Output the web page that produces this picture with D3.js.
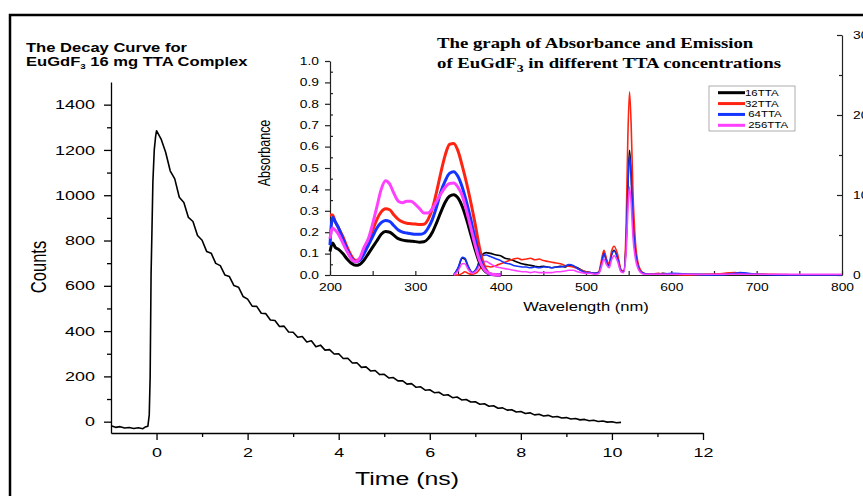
<!DOCTYPE html>
<html>
<head>
<meta charset="utf-8">
<script src="https://cdn.jsdelivr.net/npm/d3@7"></script>
<style>
  body { margin: 0; background: #fff; }
  text { font-family: "Liberation Sans", Arial, sans-serif; }
</style>
</head>
<body>
<svg id="chart" width="863" height="496"></svg>
<script>
// decay curve (main plot)
const decayTime = [-1.0, -0.9, -0.8, -0.7, -0.6, -0.5, -0.4, -0.3, -0.25, -0.19, -0.16, -0.14, -0.12, -0.1, -0.08, -0.05, -0.02,
  0.0, 0.1, 0.2, 0.3, 0.4, 0.5, 0.6, 0.7, 0.8, 0.9, 1.0, 1.1, 1.2, 1.3, 1.4, 1.5, 1.6, 1.7, 1.8, 1.9,
  2.0, 2.1, 2.2, 2.3, 2.4, 2.5, 2.6, 2.7, 2.8, 2.9, 3.0, 3.1, 3.2, 3.3, 3.4, 3.5, 3.6, 3.7, 3.8, 3.9,
  4.0, 4.1, 4.2, 4.3, 4.4, 4.5, 4.6, 4.7, 4.8, 4.9, 5.0, 5.1, 5.2, 5.3, 5.4, 5.5, 5.6, 5.7, 5.8, 5.9,
  6.0, 6.1, 6.2, 6.3, 6.4, 6.5, 6.6, 6.7, 6.8, 6.9, 7.0, 7.1, 7.2, 7.3, 7.4, 7.5, 7.6, 7.7, 7.8, 7.9,
  8.0, 8.1, 8.2, 8.3, 8.4, 8.5, 8.6, 8.7, 8.8, 8.9, 9.0, 9.1, 9.2, 9.3, 9.4, 9.5, 9.6, 9.7, 9.8, 9.9,
  10.0, 10.1, 10.2];
const decayCounts = [-18, -25, -22, -28, -26, -30, -27, -31, -24, -20, 30, 200, 650, 850, 1060, 1200, 1260,
  1285, 1248, 1190, 1108, 1072, 991, 968, 902, 884, 822, 801, 752, 744, 699, 689, 648, 641, 601, 594, 553,
  541, 510, 509, 479, 477, 449, 447, 420, 422, 396, 395, 373, 376, 352, 357, 331, 338, 316, 318, 299,
  300, 279, 280, 259, 260, 240, 242, 224, 226, 208, 209, 193, 195, 180, 181, 166, 168, 152, 154, 139,
  141, 128, 130, 117, 119, 106, 109, 96, 98, 87, 88, 77, 79, 68, 70, 59, 61, 51, 53, 43,
  45, 36, 39, 30, 33, 25, 28, 21, 23, 16, 18, 12, 14, 8, 10, 4, 6, 1, 3, -2,
  0, -5, -3];
const timeTicks = [0, 2, 4, 6, 8, 10, 12];
const timeMinor = [1, 3, 5, 7, 9, 11];
const countTicks = [0, 200, 400, 600, 800, 1000, 1200, 1400];
const countMinor = [100, 300, 500, 700, 900, 1100, 1300];

// inset: absorbance (left axis) and emission (right axis)
const seriesNames = ["16TTA", "32TTA", " 64TTA", " 256TTA"];
const seriesColors = ["#000000", "#ff2412", "#1434ff", "#ff40ff"];
const absWl = [200, 203, 206, 210, 215, 220, 225, 230, 235, 240, 245, 250, 255, 260, 265, 270, 275, 280, 285, 290,
  295, 300, 305, 310, 315, 320, 325, 330, 335, 340, 345, 350, 355, 360, 365, 370, 375, 380, 385, 390, 400];
const abs16 = [0.11, 0.15, 0.13, 0.12, 0.10, 0.075, 0.055, 0.045, 0.05, 0.07, 0.10, 0.13, 0.16, 0.19, 0.203, 0.20, 0.185, 0.17, 0.163, 0.16,
  0.158, 0.156, 0.153, 0.155, 0.17, 0.20, 0.245, 0.295, 0.34, 0.368, 0.375, 0.36, 0.32, 0.26, 0.19, 0.12, 0.06, 0.025, 0.008, 0.002, 0];
const abs32 = [0.28, 0.28, 0.25, 0.22, 0.18, 0.13, 0.09, 0.068, 0.075, 0.11, 0.16, 0.21, 0.26, 0.295, 0.31, 0.305, 0.28, 0.26, 0.248, 0.242,
  0.24, 0.238, 0.236, 0.237, 0.26, 0.31, 0.39, 0.48, 0.56, 0.61, 0.615, 0.58, 0.51, 0.43, 0.34, 0.24, 0.13, 0.05, 0.012, 0.002, 0];
const abs64 = [0.14, 0.27, 0.25, 0.22, 0.17, 0.12, 0.08, 0.062, 0.07, 0.10, 0.14, 0.18, 0.22, 0.245, 0.255, 0.25, 0.23, 0.21, 0.20, 0.196,
  0.193, 0.19, 0.19, 0.195, 0.22, 0.26, 0.32, 0.39, 0.44, 0.475, 0.483, 0.46, 0.41, 0.34, 0.26, 0.17, 0.09, 0.035, 0.01, 0.002, 0];
const abs256 = [0.17, 0.22, 0.21, 0.19, 0.15, 0.11, 0.075, 0.062, 0.08, 0.13, 0.17, 0.24, 0.32, 0.40, 0.44, 0.425, 0.38, 0.345, 0.338, 0.345,
  0.345, 0.33, 0.31, 0.29, 0.29, 0.31, 0.345, 0.38, 0.41, 0.428, 0.43, 0.41, 0.37, 0.30, 0.22, 0.14, 0.07, 0.03, 0.01, 0.003, 0];

const emWl = [345, 350, 355, 358, 362, 367, 372, 378, 383, 388, 395, 400, 405, 410, 415, 420, 425, 430, 435, 440,
  445, 450, 455, 460, 465, 470, 475, 480, 485, 490, 495, 500, 505, 510, 515, 518, 521, 524, 527, 530,
  533, 537, 541, 544, 547, 549, 551, 553, 555, 558, 561, 564, 568, 575, 585, 590, 600, 620, 650, 675,
  680, 700, 720, 750, 800];
const em16 = [0, 8, 21, 20, 10, 3, 8, 25, 28, 27, 25, 24, 21, 20, 18, 16, 14, 13, 12, 11,
  10, 11, 10, 9, 10, 11, 10, 12, 11, 9, 6, 4, 3, 2, 3, 14, 28, 18, 12, 26,
  31, 22, 6, 4, 40, 110, 156, 125, 70, 30, 12, 5, 2, 1, 1, 2, 1, 1, 1, 2,
  1, 1, 0, 0, 0];
const em32 = [0, 0, 2, 4, 2, 1, 3, 10, 11, 10, 12, 14, 16, 18, 20, 21, 19, 20, 21, 19,
  20, 18, 17, 16, 15, 14, 12, 11, 10, 8, 6, 4, 3, 2, 4, 18, 31, 20, 14, 30,
  36, 26, 7, 5, 60, 170, 229, 185, 105, 40, 15, 6, 2, 1, 2, 1, 1, 0, 1, 3,
  2, 1, 1, 0, 0];
const em64 = [0, 9, 22, 21, 11, 3, 9, 24, 25, 23, 20, 18, 15, 14, 12, 11, 10, 10, 9, 10,
  9, 10, 10, 9, 10, 10, 11, 13, 12, 8, 5, 3, 3, 2, 3, 13, 27, 17, 11, 25,
  30, 21, 5, 4, 38, 106, 150, 120, 66, 28, 11, 4, 2, 1, 1, 1, 2, 1, 0, 2,
  3, 1, 0, 0, 0];
const em256 = [0, 5, 14, 14, 7, 2, 6, 16, 17, 14, 10, 9, 8, 7, 6, 5, 4, 4, 3, 4,
  3, 3, 3, 3, 4, 4, 5, 6, 6, 4, 3, 2, 2, 1, 2, 10, 20, 13, 9, 19,
  24, 17, 4, 3, 28, 78, 110, 88, 48, 20, 8, 3, 1, 1, 1, 1, 1, 1, 1, 1,
  1, 1, 1, 1, 1];
const wlTicks = [200, 300, 400, 500, 600, 700, 800];
const wlMinor = [250, 350, 450, 550, 650, 750];
const absTicks = [0, 0.1, 0.2, 0.3, 0.4, 0.5, 0.6, 0.7, 0.8, 0.9, 1.0];
const absMinor = [0.05, 0.15, 0.25, 0.35, 0.45, 0.55, 0.65, 0.75, 0.85, 0.95];
const emTicks = [0, 100, 200, 300];
const emMinor = [50, 150, 250];

const absSeries = [abs16, abs32, abs64, abs256];
const emSeries = [em16, em32, em64, em256];

// the original figure is stretched sideways, text too
const K = 1.38;

const svg = d3.select("#chart");

function label(x, y, str, size, opts = {}) {
  const t = svg.append("text")
    .attr("transform", `translate(${x},${y}) scale(${K},1)` + (opts.rotate ? ` rotate(${opts.rotate})` : ""))
    .attr("text-anchor", opts.anchor || "start")
    .style("font-size", size + "px")
    .style("font-weight", opts.bold ? "bold" : null)
    .style("font-family", opts.serif ? "'Liberation Serif', 'Times New Roman', serif" : null)
    .text(str);
  return t;
}

// outer frame
svg.append("rect")
  .attr("x", 10).attr("y", 15)
  .attr("width", 900).attr("height", 600)
  .attr("fill", "none").attr("stroke", "#000").attr("stroke-width", 2.5);

// ---- decay curve ----
const x = d3.scaleLinear().domain([-1, 12]).range([111, 703]);
const y = d3.scaleLinear().domain([-50, 1500]).range([433, 82]);

const gx = svg.append("g").attr("transform", "translate(0,433)")
  .call(d3.axisBottom(x).tickValues(timeTicks).tickSize(7).tickSizeOuter(0).tickPadding(8));
gx.append("g").call(d3.axisBottom(x).tickValues(timeMinor).tickSize(4).tickFormat(""))
  .select(".domain").remove();
gx.selectAll(".tick text").style("font-size", "13px").attr("transform", `scale(${K},1)`);

const gy = svg.append("g").attr("transform", "translate(111,0)")
  .call(d3.axisLeft(y).tickValues(countTicks).tickSize(7).tickSizeOuter(0).tickFormat(d3.format("d")));
gy.append("g").call(d3.axisLeft(y).tickValues(countMinor).tickSize(4).tickFormat(""))
  .select(".domain").remove();
gy.selectAll(".tick text").style("font-size", "13px")
  .attr("x", -16 / K).attr("transform", `scale(${K},1)`);

svg.selectAll(".domain, .tick line").attr("stroke", "#000").attr("stroke-width", 1.3);

const decay = decayTime.map((t, i) => [t, decayCounts[i]]);
svg.append("path")
  .datum(decay)
  .attr("fill", "none")
  .attr("stroke", "#000")
  .attr("stroke-width", 1.6)
  .attr("stroke-linejoin", "round")
  .attr("d", d3.line().x(d => x(d[0])).y(d => y(d[1])));

label(26, 51.5, "The Decay Curve for", 12, { bold: true });
const t2 = label(26, 65.5, "EuGdF", 12, { bold: true });
t2.append("tspan").attr("dy", 3).style("font-size", "7px").text("3");
t2.append("tspan").attr("dy", -3).text(" 16 mg TTA Complex");

label(46, 267, "Counts", 16.5, { anchor: "middle", rotate: -90 });
label(407, 485, "Time (ns)", 18, { anchor: "middle" });

// ---- inset ----
const xw = d3.scaleLinear().domain([200, 800]).range([330, 842]);
const ya = d3.scaleLinear().domain([0, 1]).range([275, 61]);
const ye = d3.scaleLinear().domain([0, 300]).range([275, 35]);

const ins = svg.append("g");

const bx = ins.append("g").attr("transform", "translate(0,275)")
  .call(d3.axisBottom(xw).tickValues(wlTicks).tickSize(-4).tickSizeOuter(0).tickPadding(9));
bx.append("g").call(d3.axisBottom(xw).tickValues(wlMinor).tickSize(-4).tickFormat(""))
  .select(".domain").remove();
bx.selectAll(".tick text").style("font-size", "10px").attr("transform", `scale(${K},1)`);

const ly = ins.append("g").attr("transform", "translate(330,0)")
  .call(d3.axisLeft(ya).tickValues(absTicks).tickSize(5).tickSizeOuter(0).tickFormat(d3.format(".1f")));
ly.append("g").call(d3.axisLeft(ya).tickValues(absMinor).tickSize(-3).tickFormat(""))
  .select(".domain").remove();
ly.selectAll(".tick text").style("font-size", "10px")
  .attr("x", -11 / K).attr("transform", `scale(${K},1)`);

const ry = ins.append("g").attr("transform", "translate(842,0)")
  .call(d3.axisRight(ye).tickValues(emTicks).tickSize(-5).tickSizeOuter(0).tickPadding(11));
ry.append("g").call(d3.axisRight(ye).tickValues(emMinor).tickSize(-3).tickFormat(""))
  .select(".domain").remove();
ry.selectAll(".tick text").style("font-size", "10px")
  .attr("x", 11 / K).attr("transform", `scale(${K},1)`);

ins.selectAll(".domain, .tick line").attr("stroke", "#222").attr("stroke-width", 1.2);

const absLine = d3.line().curve(d3.curveMonotoneX).x((d, i) => xw(absWl[i])).y(d => ya(d));
const emLine = d3.line().curve(d3.curveMonotoneX).x((d, i) => xw(emWl[i])).y(d => ye(d));

emSeries.forEach((s, k) => {
  ins.append("path").datum(s)
    .attr("fill", "none").attr("stroke", seriesColors[k]).attr("stroke-width", 1.6)
    .attr("d", emLine);
});
absSeries.forEach((s, k) => {
  ins.append("path").datum(s)
    .attr("fill", "none").attr("stroke", seriesColors[k]).attr("stroke-width", 3)
    .attr("d", absLine);
});

label(270, 153, "Absorbance", 12.5, { anchor: "middle", rotate: -90 });
label(586, 311, "Wavelength (nm)", 12, { anchor: "middle" });

label(437, 48.3, "The graph of Absorbance and Emission", 13.6, { bold: true, serif: true });
const it2 = label(437, 68.3, "of EuGdF", 13.6, { bold: true, serif: true });
it2.append("tspan").attr("dy", 4).style("font-size", "10px").text("3");
it2.append("tspan").attr("dy", -4).text(" in different TTA concentrations");

// legend
const lg = ins.append("g");
lg.append("rect").attr("x", 709).attr("y", 86).attr("width", 86).attr("height", 45)
  .attr("fill", "#fff").attr("stroke", "#999").attr("stroke-width", 0.8);
const legendY = d3.scalePoint().domain(seriesNames).range([92.7, 125.3]);
seriesNames.forEach((n, k) => {
  lg.append("line")
    .attr("x1", 718).attr("x2", 745)
    .attr("y1", legendY(n)).attr("y2", legendY(n))
    .attr("stroke", seriesColors[k]).attr("stroke-width", 3);
  label(745, legendY(n) + 3, n, 8.3).style("white-space", "pre");
});
</script>
</body>
</html>
